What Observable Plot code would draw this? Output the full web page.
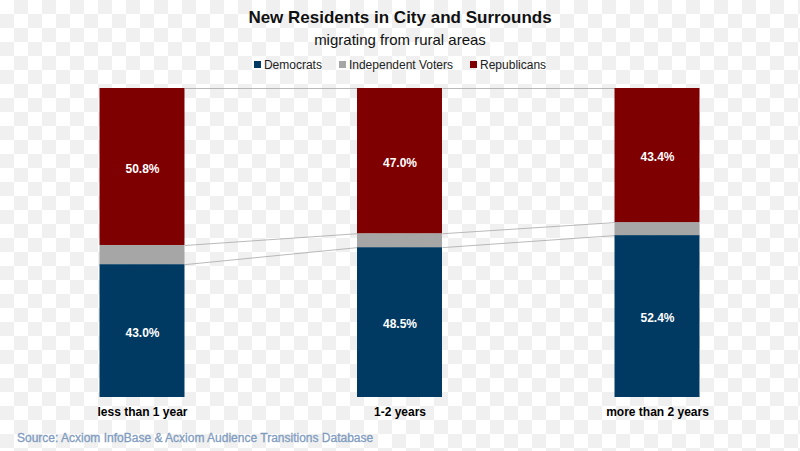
<!DOCTYPE html>
<html><head><meta charset="utf-8">
<script src="https://cdn.jsdelivr.net/npm/d3@7"></script>
<script src="https://cdn.jsdelivr.net/npm/@observablehq/plot@0.6"></script>
<style>
html,body{margin:0;padding:0;}
body{width:800px;height:451px;overflow:hidden;font-family:"Liberation Sans",Arial,sans-serif;
background-color:#fff;background-image:repeating-conic-gradient(#f0f0f0 0 25%, #ffffff 0 50%);background-size:28px 28px;position:relative;}
#title{position:absolute;top:8px;left:0;width:800px;text-align:center;font-weight:bold;font-size:17px;color:#111;}
#subtitle{position:absolute;top:31px;left:0;width:800px;text-align:center;font-size:15px;color:#111;}
#legend{position:absolute;top:58px;left:0;width:800px;display:flex;justify-content:center;gap:17px;font-size:12px;color:#222;}
#legend span.sw{display:inline-block;width:7px;height:7px;margin-right:3px;vertical-align:1px;}
#chart{position:absolute;top:80px;left:0;}
#source{position:absolute;top:431px;left:17px;font-size:12px;color:#7f9cc0;-webkit-text-stroke:0.3px #7f9cc0;}
</style></head>
<body>
<div id="title">New Residents in City and Surrounds</div>
<div id="subtitle">migrating from rural areas</div>
<div id="legend"></div>
<div id="chart"></div>
<div id="source">Source: Acxiom InfoBase &amp; Acxiom Audience Transitions Database</div>
<script>
const categories = ["less than 1 year", "1-2 years", "more than 2 years"];
const parties = ["Democrats", "Independent Voters", "Republicans"];
const democrats = [43.0, 48.5, 52.4];
const independents = [6.2, 4.5, 4.2];
const republicans = [50.8, 47.0, 43.4];
const colors = ["#003a63", "#a6a6a6", "#7f0000"];

const series = [democrats, independents, republicans];
const rows = [];
categories.forEach((c, i) => {
  let base = 0;
  series.forEach((s, k) => {
    rows.push({i, cat: c, party: parties[k], value: s[i], y1: base, y2: base + s[i]});
    base += s[i];
  });
});
const half = 0.165;
const links = [];
for (let i = 0; i < categories.length - 1; i++) {
  const a = rows.filter(r => r.i === i), b = rows.filter(r => r.i === i + 1);
  for (let k = 0; k < parties.length; k++) {
    links.push({x1: i + half, x2: i + 1 - half, y1: a[k].y2, y2: b[k].y2});
  }
}
const labeled = rows.filter(r => r.party !== "Independent Voters");

const leg = document.getElementById("legend");
parties.forEach((p, k) => {
  const d = document.createElement("div");
  d.innerHTML = `<span class="sw" style="background:${colors[k]}"></span>${p}`;
  leg.appendChild(d);
});

const chart = Plot.plot({
  width: 800, height: 345,
  marginLeft: 13.25, marginRight: 14.25, marginTop: 8, marginBottom: 28,
  style: {background: "transparent", fontFamily: "Liberation Sans, Arial, sans-serif"},
  x: {domain: [-0.5, 2.5], axis: null},
  y: {domain: [0, 100], axis: null},
  color: {domain: parties, range: colors},
  marks: [
    Plot.link(links, {x1: "x1", x2: "x2", y1: "y1", y2: "y2", stroke: "#a8a8a8", strokeWidth: 0.8}),
    Plot.rect(rows, {x1: d => d.i - half, x2: d => d.i + half, y1: "y1", y2: "y2", fill: "party"}),
    Plot.text(labeled, {x: "i", y: d => (d.y1 + d.y2) / 2, dy: 2, text: d => d.value.toFixed(1) + "%", fill: "white", fontWeight: "bold", fontSize: 12}),
    Plot.axisX({ticks: [0, 1, 2], tickFormat: i => categories[i], tickSize: 0, tickPadding: 10, fontWeight: "bold", fontSize: 12, color: "#000"})
  ]
});
document.getElementById("chart").appendChild(chart);
</script>
</body></html>
